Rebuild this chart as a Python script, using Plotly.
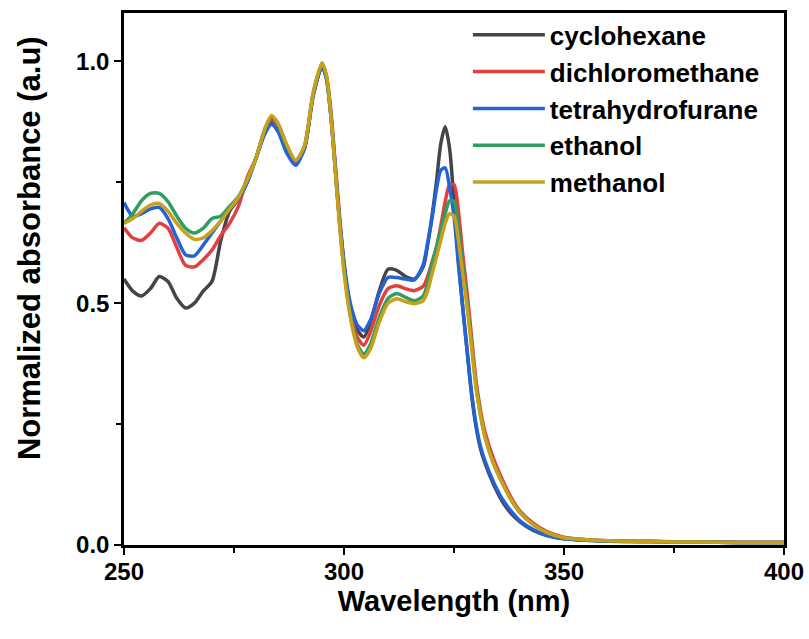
import plotly.graph_objects as go

wavelength = [250, 252, 254, 256, 258, 260, 262, 264, 266, 268, 270, 272, 274, 276, 278, 280, 282,
              283.5, 285, 287, 289, 291, 293, 295, 296, 297, 298, 299, 300, 301, 302, 303, 304.5,
              306, 308, 310, 312, 314, 316, 318,
              319, 320, 321, 322, 323, 324, 325, 326, 327, 328, 329, 330, 331, 332,
              334, 336, 338, 340, 343, 346, 350, 355, 360, 370, 380, 390, 400]

cyclohexane = [0.55, 0.525, 0.515, 0.53, 0.555, 0.545, 0.51, 0.49, 0.50, 0.525, 0.545, 0.63, 0.69, 0.715, 0.75, 0.80, 0.855,
               0.875, 0.86, 0.815, 0.79, 0.82, 0.93, 0.99, 0.965, 0.89, 0.78, 0.67, 0.58, 0.51, 0.47, 0.445, 0.43,
               0.46, 0.525, 0.57, 0.568, 0.555, 0.55, 0.575,
               0.62, 0.68, 0.75, 0.83, 0.865, 0.82, 0.71, 0.59, 0.49, 0.40, 0.31, 0.245, 0.20, 0.17,
               0.125, 0.09, 0.065, 0.048, 0.03, 0.02, 0.013, 0.01, 0.008, 0.007, 0.006, 0.005, 0.005]

dichloromethane = [0.656, 0.635, 0.63, 0.645, 0.665, 0.655, 0.615, 0.578, 0.575, 0.59, 0.61, 0.64, 0.665, 0.70, 0.76, 0.80, 0.855,
                   0.88, 0.865, 0.82, 0.79, 0.82, 0.93, 0.99, 0.97, 0.90, 0.79, 0.68, 0.58, 0.51, 0.46, 0.43, 0.413,
                   0.44, 0.495, 0.53, 0.536, 0.53, 0.526, 0.535,
                   0.555, 0.585, 0.615, 0.66, 0.71, 0.745, 0.745, 0.69, 0.60, 0.52, 0.43, 0.34, 0.28, 0.235,
                   0.178, 0.135, 0.098, 0.07, 0.045, 0.028, 0.016, 0.011, 0.009, 0.007, 0.006, 0.005, 0.005]

tetrahydrofurane = [0.708, 0.68, 0.685, 0.695, 0.698, 0.675, 0.635, 0.60, 0.598, 0.62, 0.645, 0.67, 0.695, 0.715, 0.75, 0.80, 0.85,
                    0.87, 0.855, 0.81, 0.785, 0.82, 0.93, 0.99, 0.965, 0.89, 0.78, 0.67, 0.585, 0.52, 0.48, 0.455, 0.443,
                    0.465, 0.52, 0.553, 0.553, 0.55, 0.548, 0.58,
                    0.625, 0.675, 0.735, 0.775, 0.78, 0.74, 0.68, 0.58, 0.49, 0.40, 0.315, 0.25, 0.205, 0.175,
                    0.13, 0.095, 0.07, 0.05, 0.032, 0.02, 0.013, 0.01, 0.008, 0.007, 0.006, 0.005, 0.005]

ethanol = [0.665, 0.685, 0.712, 0.727, 0.727, 0.71, 0.68, 0.655, 0.645, 0.655, 0.675, 0.68, 0.70, 0.72, 0.755, 0.80, 0.86,
           0.885, 0.87, 0.825, 0.795, 0.825, 0.935, 0.995, 0.97, 0.89, 0.78, 0.665, 0.57, 0.50, 0.45, 0.415, 0.395,
           0.415, 0.47, 0.51, 0.52, 0.512, 0.505, 0.515,
           0.54, 0.58, 0.615, 0.65, 0.685, 0.712, 0.71, 0.655, 0.575, 0.50, 0.415, 0.33, 0.27, 0.225,
           0.168, 0.128, 0.093, 0.067, 0.042, 0.026, 0.015, 0.011, 0.009, 0.007, 0.006, 0.005, 0.005]

methanol = [0.665, 0.675, 0.69, 0.703, 0.706, 0.69, 0.665, 0.645, 0.632, 0.635, 0.65, 0.67, 0.695, 0.718, 0.755, 0.80, 0.86,
            0.888, 0.872, 0.828, 0.795, 0.825, 0.935, 0.997, 0.972, 0.89, 0.775, 0.66, 0.565, 0.495, 0.445, 0.41, 0.387,
            0.405, 0.46, 0.50, 0.509, 0.503, 0.499, 0.505,
            0.525, 0.56, 0.595, 0.63, 0.665, 0.685, 0.68, 0.63, 0.56, 0.49, 0.41, 0.325, 0.27, 0.225,
            0.168, 0.128, 0.093, 0.067, 0.042, 0.026, 0.015, 0.011, 0.009, 0.007, 0.006, 0.005, 0.005]

series_names = ["cyclohexane", "dichloromethane", "tetrahydrofurane", "ethanol", "methanol"]
series_values = [cyclohexane, dichloromethane, tetrahydrofurane, ethanol, methanol]
series_colors = ["#454545", "#e2403f", "#2463d6", "#2f9e62", "#c9a01c"]

x_ticks = [250, 300, 350, 400]
y_ticks = [0.0, 0.5, 1.0]

FONT = "Liberation Sans, Arial, sans-serif"

fig = go.Figure()
for name, vals, col in zip(series_names, series_values, series_colors):
    fig.add_trace(go.Scatter(x=wavelength, y=vals, mode="lines", name=name,
                             line=dict(color=col, width=3.5, shape="spline", smoothing=0.7)))

axis_common = dict(showline=True, linecolor="black", linewidth=2.5, mirror=True,
                   ticks="outside", ticklen=7, tickwidth=2, tickcolor="black",
                   showgrid=False, zeroline=False, automargin=False,
                   tickfont=dict(family=FONT, size=24, color="black", weight="bold"))

fig.update_layout(
    width=809, height=639,
    margin=dict(l=124, r=25, t=13, b=94, autoexpand=False),
    paper_bgcolor="white", plot_bgcolor="white",
    font=dict(family=FONT, color="black"),
    xaxis=dict(range=[250, 400], tickvals=x_ticks, ticktext=[str(v) for v in x_ticks],
               minor=dict(dtick=25, ticks="outside", ticklen=5, tickwidth=2, tickcolor="black"),
               ticklabelstandoff=-4,
               title=dict(text="Wavelength (nm)", font=dict(family=FONT, size=29, color="black", weight="bold"), standoff=0),
               **axis_common),
    yaxis=dict(range=[0, 1.1], tickvals=y_ticks, ticktext=["%.1f" % v for v in y_ticks],
               minor=dict(dtick=0.25, ticks="outside", ticklen=5, tickwidth=2, tickcolor="black"),
               **axis_common),
    legend=dict(x=0.521, y=1.003, xanchor="left", yanchor="top", bgcolor="rgba(0,0,0,0)",
                font=dict(family=FONT, size=26, color="black", weight="bold"),
                itemwidth=72, tracegroupgap=0),
    showlegend=True,
    annotations=[dict(text="Normalized absorbance (a.u)", xref="paper", yref="paper",
                      x=-0.144, y=0.558, xanchor="center", yanchor="middle", textangle=-90,
                      showarrow=False,
                      font=dict(family=FONT, size=31, color="black", weight="bold"))],
)

fig.write_html("out.html")
